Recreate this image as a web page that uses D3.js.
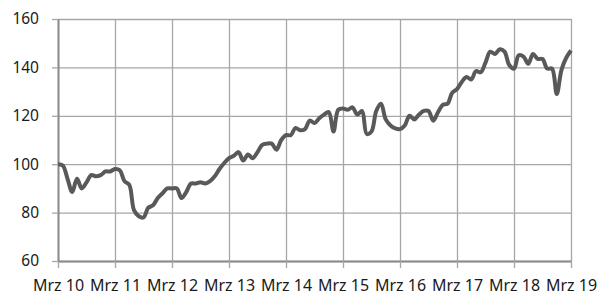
<!DOCTYPE html>
<html>
<head>
<meta charset="utf-8">
<script src="https://cdn.jsdelivr.net/npm/d3@7"></script>
<style>
  body { margin: 0; background: #fff; }
  text { font-family: "Noto Sans", "Open Sans", sans-serif; fill: #1a1a1a; }
</style>
</head>
<body>
<div id="chart"></div>
<script>
// monthly index values, Mrz 2010 .. Mrz 2019
var values = [
  100, 99.5, 94, 88.5, 94, 90, 92.5, 95.5, 95, 95.5, 97, 97,
  98, 97.5, 93, 91.5, 81, 78.5, 78, 82, 83, 86, 88, 90,
  90, 90, 86, 88.5, 92, 92, 92.5, 92, 93, 95, 98, 100.5,
  102.5, 103.5, 105, 101.5, 104, 102.5, 105, 108, 108.5, 108.5, 106, 110,
  112, 112, 115, 114, 114.5, 118, 117, 119, 120.5, 121.5, 113.5, 122.5,
  123, 122.5, 123.5, 120.5, 122, 112.5, 113.5, 122, 125, 118.5, 116, 114.8,
  114.5, 116, 120, 118.5, 120.5, 122, 122, 118, 121.5, 124.5, 125, 129.5,
  131, 134, 136, 135, 138.5, 138, 142, 146.5, 145.5, 147.5, 146.5, 141,
  139.5, 145, 144.5, 141.5, 145.5, 143.5, 143.5, 139.5, 139.5, 129, 139, 144,
  147
];
var xLabels = ["Mrz 10", "Mrz 11", "Mrz 12", "Mrz 13", "Mrz 14", "Mrz 15", "Mrz 16", "Mrz 17", "Mrz 18", "Mrz 19"];
var yTicks = [60, 80, 100, 120, 140, 160];

var margin = { top: 19, right: 39, bottom: 34, left: 58 };
var width = 610 - margin.left - margin.right;
var height = 295 - margin.top - margin.bottom;

var svg = d3.select("#chart")
  .append("svg")
  .attr("width", 610)
  .attr("height", 295)
  .append("g")
  .attr("transform", "translate(" + margin.left + "," + margin.top + ")");

var xScale = d3.scaleLinear()
  .domain([0, values.length - 1])
  .range([0, width]);

var yScale = d3.scaleLinear()
  .domain([60, 160])
  .range([height, 0]);

// vertical grid
svg.append("g")
  .attr("class", "grid")
  .attr("transform", "translate(0," + height + ")")
  .call(d3.axisBottom(xScale).tickValues(d3.range(0, values.length, 12)).tickSize(-height).tickFormat(""))
  .call(g => g.select(".domain").remove())
  .selectAll("line").attr("stroke", "#a6a6a6").attr("stroke-width", 1.3);

// horizontal grid
svg.append("g")
  .attr("class", "grid")
  .call(d3.axisLeft(yScale).tickValues(yTicks).tickSize(-width).tickFormat(""))
  .call(g => g.select(".domain").remove())
  .selectAll("line").attr("stroke", "#a6a6a6").attr("stroke-width", 1.3);

// x axis
var xAxis = svg.append("g")
  .attr("transform", "translate(0," + height + ")")
  .call(d3.axisBottom(xScale)
    .tickValues(d3.range(0, values.length, 12))
    .tickSize(7)
    .tickSizeOuter(0)
    .tickPadding(12)
    .tickFormat(function (d, i) { return xLabels[i]; }));
xAxis.select(".domain").attr("stroke", "#8c8c8c").attr("stroke-width", 2);
xAxis.selectAll("line").attr("stroke", "#a6a6a6").attr("stroke-width", 1.3);
xAxis.selectAll("text").attr("font-size", 16).attr("fill", "#1a1a1a");

// y axis
var yAxis = svg.append("g")
  .call(d3.axisLeft(yScale)
    .tickValues(yTicks)
    .tickSize(6)
    .tickSizeOuter(0)
    .tickPadding(13));
yAxis.select(".domain").attr("stroke", "#8c8c8c").attr("stroke-width", 2);
yAxis.selectAll("line").attr("stroke", "#a6a6a6").attr("stroke-width", 1.3);
yAxis.selectAll("text").attr("font-size", 15.5).attr("fill", "#1a1a1a");

// line
var line = d3.line()
  .x(function (d, i) { return xScale(i); })
  .y(function (d) { return yScale(d); })
  .curve(d3.curveCatmullRom);

svg.append("path")
  .datum(values)
  .attr("fill", "none")
  .attr("stroke", "#595959")
  .attr("stroke-width", 4)
  .attr("stroke-linejoin", "round")
  .attr("d", line);
</script>
</body>
</html>
